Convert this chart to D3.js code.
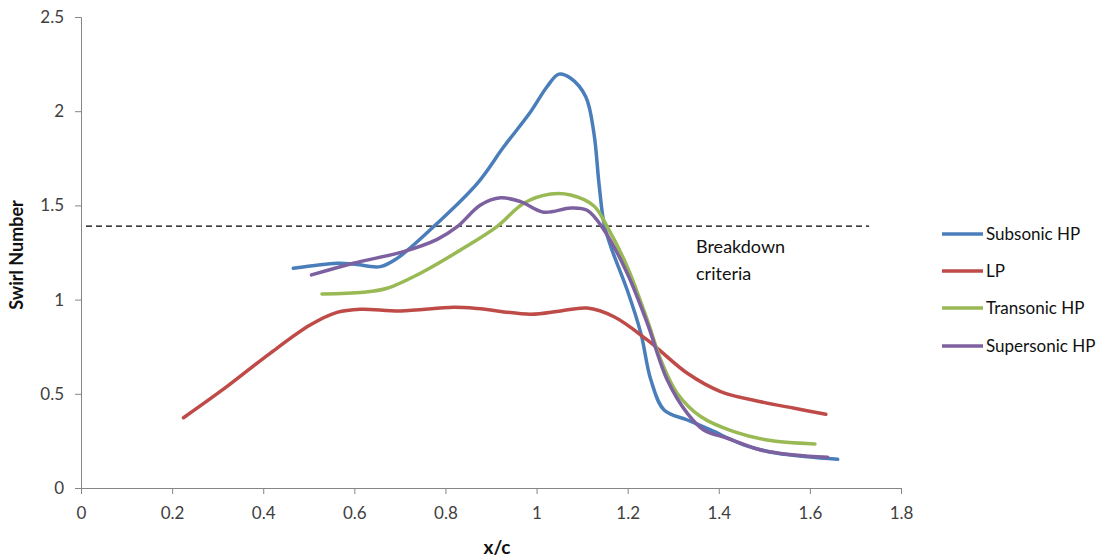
<!DOCTYPE html>
<html><head><meta charset="utf-8">
<script src="https://cdn.jsdelivr.net/npm/d3@7"></script>
<style>
body{margin:0;background:#fff;}
svg{display:block;font-family:Lato,"Open Sans",sans-serif;}
</style></head><body>
<svg id="c" width="1114" height="560"></svg>
<script>
const seriesNames = ["Subsonic HP","LP","Transonic HP","Supersonic HP"];
const seriesColors = ["#4a7ebb","#be4b48","#98b954","#7d60a0"];
const subsonicX = [0.466,0.562,0.598,0.657,0.694,0.782,0.870,0.928,0.987,1.023,1.049,1.075,1.108,1.126,1.137,1.148,1.163,1.199,1.229,1.251,1.280,1.331,1.382,1.456,1.529,1.595,1.661];
const subsonicY = [1.166,1.193,1.189,1.175,1.219,1.405,1.617,1.811,1.997,2.130,2.197,2.175,2.077,1.882,1.617,1.405,1.281,1.051,0.821,0.573,0.414,0.361,0.308,0.228,0.184,0.166,0.152];
const lpX = [0.225,0.320,0.415,0.503,0.562,0.613,0.701,0.818,0.870,0.987,1.053,1.111,1.170,1.243,1.331,1.404,1.492,1.566,1.635];
const lpY = [0.373,0.538,0.715,0.865,0.932,0.949,0.940,0.959,0.953,0.922,0.940,0.955,0.909,0.786,0.609,0.512,0.458,0.423,0.391];
const transonicX = [0.529,0.620,0.672,0.745,0.833,0.913,0.972,1.031,1.075,1.126,1.155,1.199,1.243,1.273,1.309,1.361,1.433,1.506,1.611];
const transonicY = [1.030,1.039,1.060,1.140,1.263,1.387,1.511,1.560,1.555,1.497,1.387,1.175,0.892,0.679,0.502,0.378,0.299,0.255,0.234];
const supersonicX = [0.506,0.598,0.708,0.782,0.826,0.877,0.921,0.965,1.016,1.075,1.111,1.148,1.199,1.243,1.287,1.331,1.367,1.419,1.492,1.566,1.639];
const supersonicY = [1.131,1.193,1.255,1.320,1.387,1.502,1.540,1.520,1.464,1.486,1.474,1.370,1.140,0.875,0.573,0.396,0.308,0.264,0.202,0.175,0.163];
const xTicks = [0,0.2,0.4,0.6,0.8,1,1.2,1.4,1.6,1.8];
const yTicks = [0,0.5,1,1.5,2,2.5];
const breakdownY = 1.39;
const breakdownX = [0,1.73];

const series = [
  {name:seriesNames[0], xs:subsonicX, ys:subsonicY, color:seriesColors[0]},
  {name:seriesNames[1], xs:lpX, ys:lpY, color:seriesColors[1]},
  {name:seriesNames[2], xs:transonicX, ys:transonicY, color:seriesColors[2]},
  {name:seriesNames[3], xs:supersonicX, ys:supersonicY, color:seriesColors[3]}
];

const svg = d3.select("#c");
const x = d3.scaleLinear().domain([0,1.8]).range([81,901]);
const y = d3.scaleLinear().domain([0,2.5]).range([488,17]);
const axisColor = "#868686";

const xa = svg.append("g").attr("transform","translate(0,488)")
  .call(d3.axisBottom(x).tickValues(xTicks).tickFormat(d=>String(d)).tickSizeOuter(0).tickSize(6).tickPadding(13));
const ya = svg.append("g").attr("transform","translate(81,0)")
  .call(d3.axisLeft(y).tickValues(yTicks).tickFormat(d=>String(d)).tickSizeOuter(0).tickSize(6).tickPadding(11));
[xa,ya].forEach(a=>{
  a.select(".domain").attr("stroke",axisColor);
  a.selectAll(".tick line").attr("stroke",axisColor);
  a.selectAll(".tick text").attr("fill","#404040").style("font-size","17px").style("font-family","Lato,'Open Sans',sans-serif");
});

// breakdown line
svg.append("line")
  .attr("x1",x(breakdownX[0])+5).attr("x2",x(breakdownX[1]))
  .attr("y1",y(breakdownY)).attr("y2",y(breakdownY))
  .attr("stroke","#000").attr("stroke-width",1.4).attr("stroke-dasharray","6,4");

const line = d3.line().x(d=>x(d[0])).y(d=>y(d[1])).curve(d3.curveCatmullRom.alpha(0.5));
series.forEach(s=>{
  const pts = s.xs.map((v,i)=>[v,s.ys[i]]);
  svg.append("path").attr("d",line(pts)).attr("fill","none")
    .attr("stroke",s.color).attr("stroke-width",3.5).attr("stroke-linecap","round").attr("stroke-linejoin","round");
});

// annotation
const ann = svg.append("text").attr("fill","#111").style("font-size","18px");
ann.append("tspan").attr("x",696).attr("y",253).text("Breakdown");
ann.append("tspan").attr("x",696).attr("y",280).text("criteria");

// axis titles
svg.append("text").attr("x",497).attr("y",554).attr("text-anchor","middle")
  .style("font-size","19px").style("font-weight","bold").attr("fill","#111").text("x/c");
svg.append("text").attr("transform","translate(23,255) rotate(-90)").attr("text-anchor","middle")
  .style("font-size","18px").style("font-weight","bold").attr("fill","#111").text("Swirl Number");

// legend
const lg = svg.append("g");
series.forEach((s,i)=>{
  const ly = [234,271,308,346][i];
  lg.append("line").attr("x1",942).attr("x2",983).attr("y1",ly).attr("y2",ly)
    .attr("stroke",s.color).attr("stroke-width",3.5);
  lg.append("text").attr("x",986).attr("y",ly+6).attr("fill","#111").style("font-size","17px").text(s.name);
});
</script>
</body></html>
